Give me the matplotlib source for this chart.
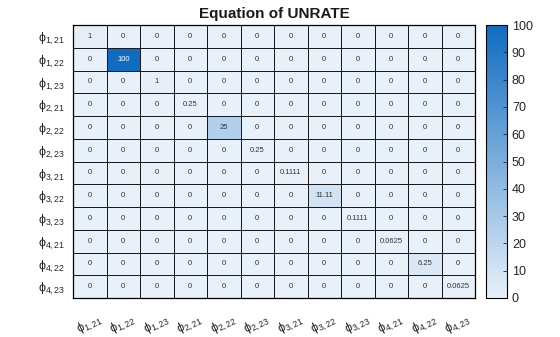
import matplotlib.pyplot as plt
import numpy as np
from matplotlib.colors import LinearSegmentedColormap

labels = ["1,21", "1,22", "1,23", "2,21", "2,22", "2,23",
          "3,21", "3,22", "3,23", "4,21", "4,22", "4,23"]
diag_vals = [1, 100, 1, 0.25, 25, 0.25, 0.1111, 11.11, 0.1111, 0.0625, 6.25, 0.0625]
cbar_ticks = [0, 10, 20, 30, 40, 50, 60, 70, 80, 90, 100]
title = "Equation of UNRATE"

plt.rcParams["font.family"] = ["Liberation Sans", "DejaVu Sans"]
plt.rcParams["mathtext.fontset"] = "custom"
plt.rcParams["mathtext.rm"] = "Liberation Sans"
plt.rcParams["mathtext.it"] = "Liberation Sans"

n = len(labels)
data = np.zeros((n, n))
for i, v in enumerate(diag_vals):
    data[i, i] = v

# simple two-colour ramp, like MATLAB's heatmap default
cmap = LinearSegmentedColormap.from_list("msky", ["#e8f0f9", "#0f6cc0"])

fig = plt.figure(figsize=(5.6, 3.37), dpi=100)
ax = fig.add_axes([73/560, 1 - 298/337, 402/560, 273/337])
cax = fig.add_axes([486/560, 1 - 298/337, 21/560, 273/337])

im = ax.pcolormesh(data, cmap=cmap, vmin=0, vmax=100, edgecolors="#1a1a1a", linewidth=0.7)
ax.set_xlim(0, n)
ax.set_ylim(n, 0)
for s in ax.spines.values():
    s.set_linewidth(0.9)

def fmt(v):
    if v == 0:
        return "0"
    return "%g" % v

for i in range(n):
    for j in range(n):
        v = data[i, j]
        col = "white" if v > 60 else "#333333"
        ax.text(j + 0.5, i + 0.5, fmt(v), ha="center", va="center", fontsize=5.5, color=col)

ticklabs = [r"$\phi_{%s}$" % l for l in labels]
ax.set_xticks(np.arange(n) + 0.5)
ax.set_xticklabels(ticklabs, rotation=25, fontsize=9, color="#262626", ha="center")
ax.set_yticks(np.arange(n) + 0.5)
ax.set_yticklabels(ticklabs, fontsize=9, color="#262626")
ax.tick_params(length=0, pad=6)
ax.tick_params(axis="x", pad=10)
ax.set_title(title, fontsize=11, fontweight="bold", pad=5, color="#1a1a1a")

cb = fig.colorbar(im, cax=cax)
cb.set_ticks(cbar_ticks)
cb.ax.tick_params(labelsize=9, length=3, direction="in", colors="#262626", width=0.6)
cb.outline.set_linewidth(0.8)

fig.savefig("out.png", dpi=100)
